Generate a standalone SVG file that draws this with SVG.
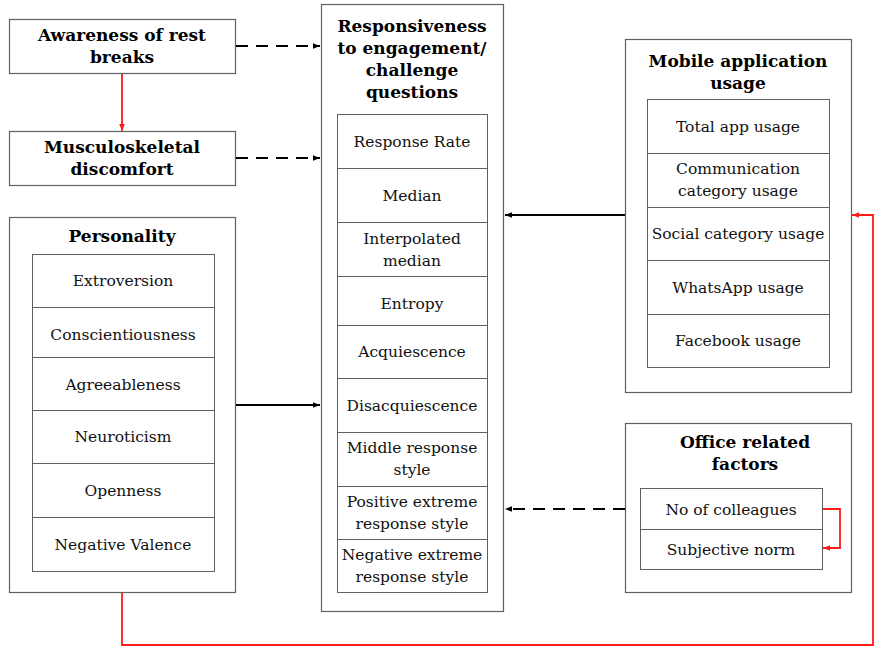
<svg xmlns="http://www.w3.org/2000/svg" width="875" height="648" viewBox="0 0 875 648">
  <style>
    .box { fill: #fff; stroke: #606060; stroke-width: 1.2; }
    .cell { fill: #fff; stroke: #606060; stroke-width: 1; }
    .title { font-family: "DejaVu Serif", "Liberation Serif", serif; font-weight: bold; font-size: 17px; fill: #000; text-anchor: middle; }
    .item { font-family: "DejaVu Serif", "Liberation Serif", serif; font-size: 15.5px; fill: #111; text-anchor: middle; }
    .blk { fill: none; stroke: #000; stroke-width: 1.8; }
    .dash { stroke-dasharray: 12 8; }
    .red { fill: none; stroke: #ff1a1a; stroke-width: 1.8; }
  </style>
  <defs>
    <marker id="ah" viewBox="0 0 10 10" refX="10" refY="5" markerWidth="7" markerHeight="7" orient="auto" markerUnits="userSpaceOnUse">
      <path d="M0,1 L10,5 L0,9 z" fill="#000"/>
    </marker>
    <marker id="ahr" viewBox="0 0 10 10" refX="10" refY="5" markerWidth="7" markerHeight="7" orient="auto" markerUnits="userSpaceOnUse">
      <path d="M0,1 L10,5 L0,9 z" fill="#ff1a1a"/>
    </marker>
  </defs>

  <!-- Awareness of rest breaks -->
  <g id="awareness">
    <rect class="box" x="9.5" y="19.5" width="226" height="54"/>
    <text class="title" x="122" y="41">Awareness of rest</text>
    <text class="title" x="122" y="63">breaks</text>
  </g>

  <!-- Musculoskeletal discomfort -->
  <g id="musculoskeletal">
    <rect class="box" x="9.5" y="131.5" width="226" height="54"/>
    <text class="title" x="122" y="153">Musculoskeletal</text>
    <text class="title" x="122" y="175">discomfort</text>
  </g>

  <!-- Personality -->
  <g id="personality">
    <rect class="box" x="9.5" y="217.5" width="226" height="375"/>
    <text class="title" x="122" y="242">Personality</text>
    <rect class="cell" x="32.5" y="254.5" width="182" height="53"/>
    <rect class="cell" x="32.5" y="307.5" width="182" height="50"/>
    <rect class="cell" x="32.5" y="357.5" width="182" height="53"/>
    <rect class="cell" x="32.5" y="410.5" width="182" height="53"/>
    <rect class="cell" x="32.5" y="463.5" width="182" height="54"/>
    <rect class="cell" x="32.5" y="517.5" width="182" height="54"/>
    <text class="item" x="123" y="286">Extroversion</text>
    <text class="item" x="123" y="340">Conscientiousness</text>
    <text class="item" x="123" y="390">Agreeableness</text>
    <text class="item" x="123" y="442">Neuroticism</text>
    <text class="item" x="123" y="496">Openness</text>
    <text class="item" x="123" y="550">Negative Valence</text>
  </g>

  <!-- Responsiveness to engagement/challenge questions -->
  <g id="responsiveness">
    <rect class="box" x="321.5" y="4.5" width="182" height="607"/>
    <text class="title" x="412" y="32">Responsiveness</text>
    <text class="title" x="412" y="54">to engagement/</text>
    <text class="title" x="412" y="76">challenge</text>
    <text class="title" x="412" y="98">questions</text>
    <rect class="cell" x="337.5" y="114.5" width="150" height="54"/>
    <rect class="cell" x="337.5" y="168.5" width="150" height="54"/>
    <rect class="cell" x="337.5" y="222.5" width="150" height="54"/>
    <rect class="cell" x="337.5" y="276.5" width="150" height="49"/>
    <rect class="cell" x="337.5" y="325.5" width="150" height="53"/>
    <rect class="cell" x="337.5" y="378.5" width="150" height="54"/>
    <rect class="cell" x="337.5" y="432.5" width="150" height="54"/>
    <rect class="cell" x="337.5" y="486.5" width="150" height="53"/>
    <rect class="cell" x="337.5" y="539.5" width="150" height="53"/>
    <text class="item" x="412" y="147">Response Rate</text>
    <text class="item" x="412" y="201">Median</text>
    <text class="item" x="412" y="244">Interpolated</text>
    <text class="item" x="412" y="266">median</text>
    <text class="item" x="412" y="309">Entropy</text>
    <text class="item" x="412" y="357">Acquiescence</text>
    <text class="item" x="412" y="411">Disacquiescence</text>
    <text class="item" x="412" y="453">Middle response</text>
    <text class="item" x="412" y="475">style</text>
    <text class="item" x="412" y="507">Positive extreme</text>
    <text class="item" x="412" y="529">response style</text>
    <text class="item" x="412" y="560">Negative extreme</text>
    <text class="item" x="412" y="582">response style</text>
  </g>

  <!-- Mobile application usage -->
  <g id="mobile">
    <rect class="box" x="625.5" y="39.5" width="226" height="353"/>
    <text class="title" x="738" y="67">Mobile application</text>
    <text class="title" x="738" y="89">usage</text>
    <rect class="cell" x="647.5" y="99.5" width="182" height="54"/>
    <rect class="cell" x="647.5" y="153.5" width="182" height="54"/>
    <rect class="cell" x="647.5" y="207.5" width="182" height="53"/>
    <rect class="cell" x="647.5" y="260.5" width="182" height="54"/>
    <rect class="cell" x="647.5" y="314.5" width="182" height="53"/>
    <text class="item" x="738" y="132">Total app usage</text>
    <text class="item" x="738" y="174">Communication</text>
    <text class="item" x="738" y="196">category usage</text>
    <text class="item" x="738" y="239">Social category usage</text>
    <text class="item" x="738" y="293">WhatsApp usage</text>
    <text class="item" x="738" y="346">Facebook usage</text>
  </g>

  <!-- Office related factors -->
  <g id="office">
    <rect class="box" x="625.5" y="423.5" width="226" height="169"/>
    <text class="title" x="745" y="448">Office related</text>
    <text class="title" x="745" y="470">factors</text>
    <rect class="cell" x="640.5" y="488.5" width="182" height="41"/>
    <rect class="cell" x="640.5" y="529.5" width="182" height="40"/>
    <text class="item" x="731" y="515">No of colleagues</text>
    <text class="item" x="731" y="555">Subjective norm</text>
  </g>

  <!-- Connectors -->
  <g id="connectors">
    <line class="blk dash" x1="236" y1="46" x2="320" y2="46" marker-end="url(#ah)"/>
    <line class="blk dash" x1="236" y1="158" x2="320" y2="158" marker-end="url(#ah)"/>
    <line class="blk" x1="236" y1="405" x2="320" y2="405" marker-end="url(#ah)"/>
    <line class="blk" x1="625" y1="215" x2="505" y2="215" marker-end="url(#ah)"/>
    <line class="blk dash" x1="625" y1="509" x2="505" y2="509" marker-end="url(#ah)"/>
    <line class="red" x1="122" y1="74" x2="122" y2="131" marker-end="url(#ahr)"/>
    <polyline class="red" points="122,593 122,645 873,645 873,215 852,215" marker-end="url(#ahr)"/>
    <polyline class="red" points="823,509 840,509 840,548 823,548" marker-end="url(#ahr)"/>
  </g>
</svg>
